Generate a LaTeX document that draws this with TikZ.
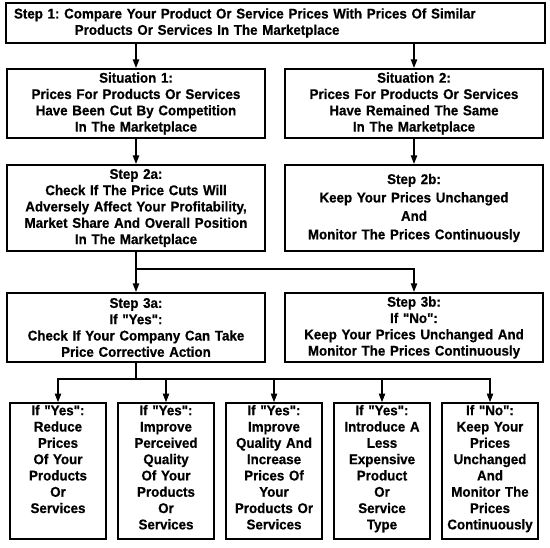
\documentclass[tikz,border=0pt]{standalone}
\usepackage{fontspec}
\newfontfamily\boxfont{Liberation Sans}[FakeStretch=0.95,BoldFeatures={FakeBold=0.6}]
\usepackage{tikz}
\usetikzlibrary{arrows.meta}
\frenchspacing

\begin{document}
\begin{tikzpicture}
\tikzset{>={Triangle[width=4.5pt,length=6pt]},
box/.style={draw,line width=1.6pt,align=center,inner sep=1pt,font=\boxfont\fontsize{10}{11.6}\selectfont\bfseries},
wide/.style={box,minimum width=6.45cm,text width=6.3cm},
outcome/.style={box,minimum width=2.4cm,text width=2.3cm,text height=7.5pt,text depth=86.9pt}}
\useasboundingbox (0,0) rectangle (13.75,-13.675);
\node (top) at (6.8875,-0.575) [box,minimum width=13.475cm,minimum height=1cm,text width=13.075cm,align=left] {Step 1: Compare Your Product Or Service Prices With Prices Of Similar\\\hspace*{1.52cm}Products Or Services In The Marketplace};
\node (sit1) at (3.4,-2.5875) [wide,minimum height=1.725cm] {Situation 1:\\Prices For Products Or Services\\Have Been Cut By Competition\\In The Marketplace};
\node (sit2) at (10.35,-2.5875) [wide,minimum height=1.725cm] {Situation 2:\\Prices For Products Or Services\\Have Remained The Same\\In The Marketplace};
\node (s2a) at (3.4,-5.2) [wide,minimum height=2.15cm] {Step 2a:\\Check If The Price Cuts Will\\Adversely Affect Your Profitability,\\Market Share And Overall Position\\In The Marketplace};
\node (s2b) at (10.35,-5.2) [wide,minimum height=2.15cm] {Step 2b:\\[1.5pt]Keep Your Prices Unchanged\\[1.5pt]And\\[1.5pt]Monitor The Prices Continuously};
\node (s3a) at (3.4,-8.1875) [wide,minimum height=1.725cm] {Step 3a:\\If "Yes":\\Check If Your Company Can Take\\Price Corrective Action};
\node (s3b) at (10.35,-8.1875) [wide,minimum height=1.725cm] {Step 3b:\\If "No":\\Keep Your Prices Unchanged And\\Monitor The Prices Continuously};
\node (o1) at (1.45,-11.775) [outcome] {If "Yes":\\Reduce\\Prices\\Of Your\\Products\\Or\\Services};
\node (o2) at (4.15,-11.775) [outcome] {If "Yes":\\Improve\\Perceived\\Quality\\Of Your\\Products\\Or\\Services};
\node (o3) at (6.85,-11.775) [outcome] {If "Yes":\\Improve\\Quality And\\Increase\\Prices Of\\Your\\Products Or\\Services};
\node (o4) at (9.55,-11.775) [outcome] {If "Yes":\\Introduce A\\Less\\Expensive\\Product\\Or\\Service\\Type};
\node (o5) at (12.25,-11.775) [outcome] {If "No":\\Keep Your\\Prices\\Unchanged\\And\\Monitor The\\Prices\\Continuously};
\coordinate (j1) at (3.4,-6.725);
\coordinate (j2) at (3.4,-9.475);

\begin{scope}[line width=0.8pt]
\path
(top.south -| sit1.north) edge [->] (sit1.north)
(top.south -| sit2.north) edge [->] (sit2.north)
(sit1) edge [->] (s2a)
(sit2) edge [->] (s2b)
(j1) edge [->] (s3a.north);
\draw (s2a.south) -- (j1);
\draw [->] (j1) -| (s3b.north);
\draw (s3a.south) -- (j2);
\foreach \o in {o1,o2,o3,o4,o5}
  \draw [->] (j2) -| (\o.north);
\end{scope}
\end{tikzpicture}
\end{document}
